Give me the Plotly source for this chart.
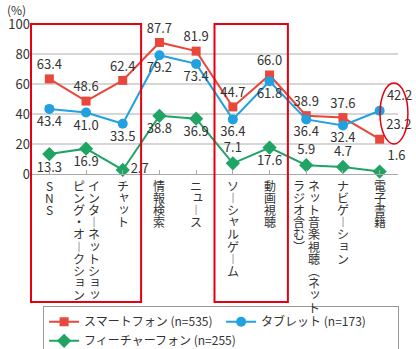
import plotly.graph_objects as go

# Service categories (columns of the vertical label separated by "\n")
category_labels = [
    "SNS",
    "インターネットショッ\nピング・オークション",
    "チャット",
    "情報検索",
    "ニュース",
    "ソーシャルゲーム",
    "動画視聴",
    "ネット音楽視聴(ネット\nラジオ含む)",
    "ナビゲーション",
    "電子書籍",
]
categories = [c.replace("\n", "") for c in category_labels]

smartphone = [63.4, 48.6, 62.4, 87.7, 81.9, 44.7, 66.0, 38.9, 37.6, 23.2]
tablet = [43.4, 41.0, 33.5, 79.2, 73.4, 36.4, 61.8, 36.4, 32.4, 42.2]
featurephone = [13.3, 16.9, 2.7, 38.8, 36.9, 7.1, 17.6, 5.9, 4.7, 1.6]

series_names = ["スマートフォン (n=535)", "タブレット (n=173)", "フィーチャーフォン (n=255)"]
y_ticks = [0, 20, 40, 60, 80, 100]

RED = "#e8483b"
BLUE = "#22a0df"
GREEN = "#1fa463"
TEXT = "#333333"
FONT = "Noto Sans CJK JP"

n = len(categories)
xs = list(range(n))

sp_pos = ["top center"] * n
sp_pos[9] = "top right"
tb_pos = ["bottom center"] * n
tb_pos[9] = "top right"
fp_pos = ["bottom center"] * n
fp_pos[2] = "middle right"
fp_pos[5] = "top center"
fp_pos[7] = "top center"
fp_pos[8] = "top center"
fp_pos[9] = "top right"

fig = go.Figure()


def add_series(values, name, color, symbol, size, positions):
    fig.add_trace(go.Scatter(
        x=xs, y=values, name=name,
        mode="lines+markers+text",
        line=dict(color=color, width=2),
        marker=dict(color=color, symbol=symbol, size=size),
        text=[f"{v:.1f}" for v in values],
        textposition=positions,
        textfont=dict(family=FONT, size=13, color=TEXT),
        cliponaxis=False,
    ))


add_series(smartphone, series_names[0], RED, "square", 9, sp_pos)
add_series(tablet, series_names[1], BLUE, "circle", 10, tb_pos)
add_series(featurephone, series_names[2], GREEN, "diamond", 11, fp_pos)

# Vertical (top-to-bottom) category labels, one character per annotation
vertical_map = {"ー": "︱", "(": "︵", ")": "︶"}
small_kana = set("ッョャュァィゥェォ")
STEP = 12.2
annotations = []
for i, label in enumerate(category_labels):
    cols = label.split("\n")
    ncol = len(cols)
    for c, col in enumerate(cols):
        # first column sits on the right, later columns move left
        xoff = (ncol - 1) / 2 * 15 - c * 15
        for k, ch in enumerate(col):
            dx, dy = 0, 0
            if ch in small_kana:
                dx, dy = 1.5, 2
            annotations.append(dict(
                x=i, y=0, xref="x", yref="y",
                text=vertical_map.get(ch, ch),
                showarrow=False,
                xanchor="center", yanchor="middle",
                xshift=xoff + dx,
                yshift=-11 - k * STEP + dy,
                font=dict(family=FONT, size=12, color=TEXT),
            ))

annotations.append(dict(
    x=0, y=1, xref="paper", yref="paper", xshift=-15, yshift=15,
    text="(%)", showarrow=False, xanchor="center", yanchor="middle",
    font=dict(family=FONT, size=12, color=TEXT),
))


def frac(pos):
    """Category-axis coordinate -> fraction of the x-axis domain."""
    return (pos + 0.5) / n


shapes = [
    dict(type="rect", xref="x domain", yref="paper",
         x0=frac(-0.5), x1=frac(2.5), y0=1, y1=-0.853,
         line=dict(color="#e60012", width=2)),
    dict(type="rect", xref="x domain", yref="paper",
         x0=frac(4.5), x1=frac(6.5), y0=1, y1=-0.853,
         line=dict(color="#e60012", width=2)),
    dict(type="circle", xref="x domain", yref="paper",
         x0=0.951, x1=1.027, y0=0.2, y1=0.607,
         line=dict(color="#e60012", width=1.5)),
]

fig.update_layout(
    width=416, height=349,
    margin=dict(l=31, r=18, t=24, b=175, autoexpand=False),
    paper_bgcolor="white", plot_bgcolor="white",
    font=dict(family=FONT, size=12, color=TEXT),
    showlegend=True,
    legend=dict(
        orientation="h", x=0.033, y=-0.882, xanchor="left", yanchor="top",
        bordercolor="#999999", borderwidth=1,
        font=dict(family=FONT, size=12, color=TEXT),
        itemwidth=30, tracegroupgap=0, entrywidth=132, entrywidthmode="pixels",
    ),
    annotations=annotations,
    shapes=shapes,
)
fig.update_xaxes(
    range=[-0.5, n - 0.5], tickmode="array", tickvals=xs, ticktext=[""] * n,
    showgrid=False, showline=True, linecolor="#aaaaaa", linewidth=1,
    ticks="inside", ticklen=4, tickcolor="#aaaaaa", tickson="boundaries",
    zeroline=False, fixedrange=True,
)
fig.update_yaxes(
    range=[0, 100], tickvals=y_ticks, showgrid=True, gridcolor="#d6d6d6",
    gridwidth=2, zeroline=False, showline=False, ticks="",
    tickfont=dict(family=FONT, size=13, color=TEXT), fixedrange=True,
)

fig.write_html("out.html")
